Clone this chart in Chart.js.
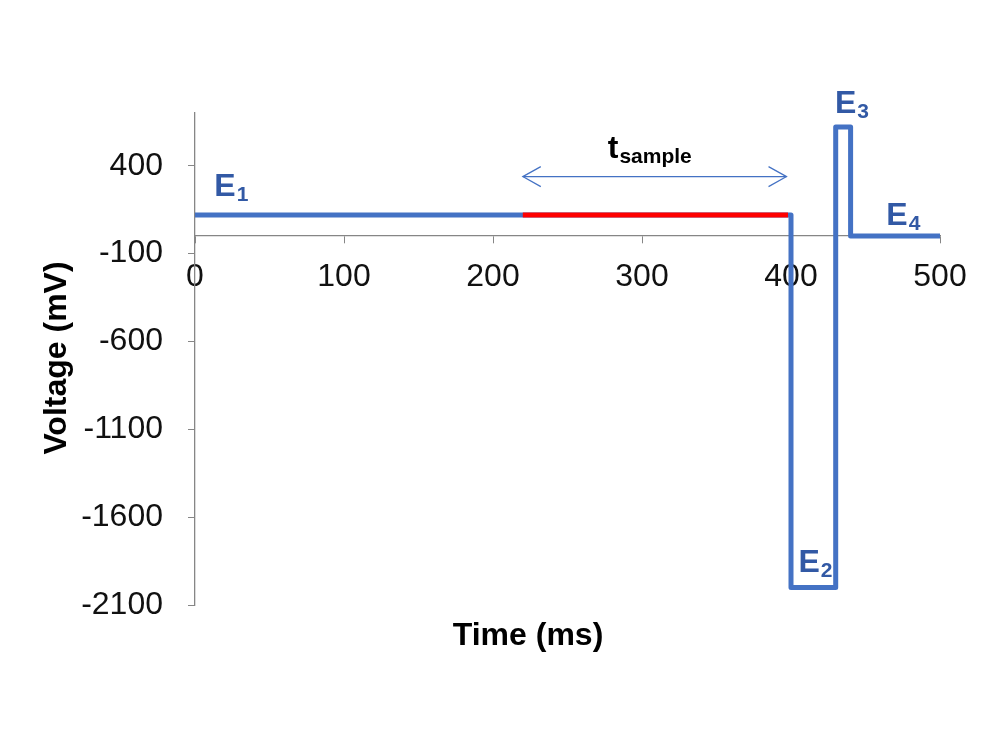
<!DOCTYPE html>
<html>
<head>
<meta charset="utf-8">
<script src="https://cdn.jsdelivr.net/npm/chart.js@4"></script>
<style>
  html, body { margin: 0; padding: 0; background: #fff; }
  #wrap { width: 1000px; height: 750px; }
</style>
</head>
<body>
<div id="wrap"><canvas id="myChart"></canvas></div>
<script>
// waveform (time ms, voltage mV)
var waveTime    = [0, 400, 400, 430, 430, 440, 440, 500];
var waveVoltage = [120, 120, -2000, -2000, 620, 620, 0, 0];
// sampling window (red)
var sampleTime    = [220, 398];
var sampleVoltage = [120, 120];
// t_sample arrow
var arrowTime    = [220, 397];
var arrowVoltage = [338, 338];
// axis ticks
var xTicks = [0, 100, 200, 300, 400, 500];
var yTicks = [-2100, -1600, -1100, -600, -100, 400];
// annotation labels: [main, subscript, time, voltage]
var labels = [
    ['E', '1', 13, 230],
    ['E', '2', 405, -1912],
    ['E', '3', 429.5, 702],
    ['E', '4', 464, 60]
];

function toPoints(xs, ys) {
    return xs.map(function (x, i) { return { x: x, y: ys[i] }; });
}

var FONT = '"Liberation Sans", Arial, sans-serif';
var axisGray = '#868686';

var annotations = {
    id: 'annotations',
    afterDatasetsDraw: function (chart) {
        var c = chart.ctx, xs = chart.scales.x, ys = chart.scales.y;
        c.save();
        // arrow heads
        var y = ys.getPixelForValue(arrowVoltage[0]);
        var x1 = xs.getPixelForValue(arrowTime[0]);
        var x2 = xs.getPixelForValue(arrowTime[1]);
        c.strokeStyle = '#4472C4';
        c.lineWidth = 1.2;
        c.beginPath();
        c.moveTo(x1 + 18, y - 10); c.lineTo(x1, y); c.lineTo(x1 + 18, y + 10);
        c.moveTo(x2 - 18, y - 10); c.lineTo(x2, y); c.lineTo(x2 - 18, y + 10);
        c.stroke();

        // E labels
        c.textBaseline = 'alphabetic';
        c.textAlign = 'left';
        c.fillStyle = '#3259a5';
        labels.forEach(function (l) {
            var px = xs.getPixelForValue(l[2]);
            var py = ys.getPixelForValue(l[3]);
            c.font = 'bold 32px ' + FONT;
            c.fillText(l[0], px, py);
            var w = c.measureText(l[0]).width;
            c.font = 'bold 21px ' + FONT;
            c.fillText(l[1], px + w + 1, py + 5);
        });

        // t_sample
        c.fillStyle = '#000';
        var tx = xs.getPixelForValue(277);
        var ty = ys.getPixelForValue(446);
        c.font = 'bold 32px ' + FONT;
        c.fillText('t', tx, ty);
        var tw = c.measureText('t').width;
        c.font = 'bold 21px ' + FONT;
        c.fillText('sample', tx + tw + 1, ty + 5);

        // axis titles
        c.font = 'bold 32px ' + FONT;
        c.textAlign = 'center';
        c.textBaseline = 'middle';
        c.fillText('Time (ms)', 528, 636);
        c.translate(57, 358);
        c.rotate(-Math.PI / 2);
        c.fillText('Voltage (mV)', 0, 0);
        c.restore();
    }
};

var ctx = document.getElementById('myChart');
var myChart = new Chart(ctx, {
    type: 'line',
    data: {
        datasets: [{
            label: 'sample',
            order: 0,
            data: toPoints(sampleTime, sampleVoltage),
            borderColor: '#FF0000',
            borderWidth: 5,
            pointRadius: 0,
            fill: false
        },
        {
            label: 'waveform',
            order: 1,
            data: toPoints(waveTime, waveVoltage),
            borderColor: '#4472C4',
            borderWidth: 5,
            borderJoinStyle: 'round',
            pointRadius: 0,
            fill: false
        },
        {
            label: 'arrow',
            order: 2,
            data: toPoints(arrowTime, arrowVoltage),
            borderColor: '#4472C4',
            borderWidth: 1.2,
            pointRadius: 0,
            fill: false
        }]
    },
    options: {
        responsive: true,
        maintainAspectRatio: false,
        animation: false,
        layout: { padding: { left: 0, right: 60, top: 113, bottom: 145 } },
        plugins: {
            legend: { display: false },
            tooltip: { enabled: false }
        },
        scales: {
            x: {
                type: 'linear',
                position: { y: 0 },
                min: 0,
                max: 500,
                afterBuildTicks: function (s) {
                    s.ticks = xTicks.map(function (v) { return { value: v }; });
                },
                grid: { display: true, drawOnChartArea: false, drawTicks: true, tickLength: 7, color: axisGray },
                border: { display: true, color: axisGray, width: 1.3 },
                ticks: {
                    color: '#111', font: { size: 32, family: FONT }, padding: 15, maxRotation: 0,
                    callback: function (v) { return String(v); }
                }
            },
            y: {
                type: 'linear',
                position: 'left',
                min: -2100,
                max: 700,
                afterBuildTicks: function (s) {
                    s.ticks = yTicks.map(function (v) { return { value: v }; });
                },
                afterFit: function (s) { s.width = 195; },
                grid: { display: true, drawOnChartArea: false, drawTicks: true, tickLength: 7, color: axisGray },
                border: { display: true, color: axisGray, width: 1.3 },
                ticks: {
                    color: '#111', font: { size: 32, family: FONT }, padding: 25,
                    callback: function (v) { return String(v); }
                }
            }
        }
    },
    plugins: [annotations]
});
</script>
</body>
</html>
